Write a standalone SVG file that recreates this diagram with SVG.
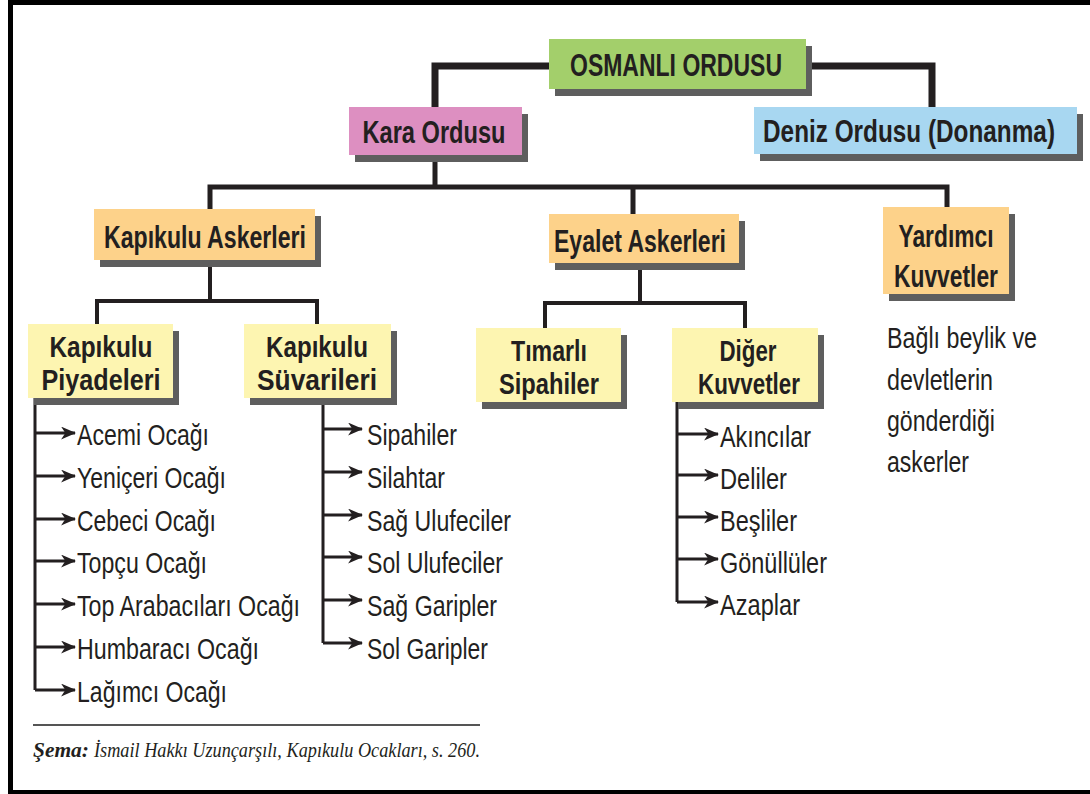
<svg xmlns="http://www.w3.org/2000/svg" width="1090" height="794" viewBox="0 0 1090 794">
<style>
.sh{fill:#5e5e5e}
.t{font-family:"Liberation Sans",Arial,sans-serif;fill:#231f20;text-anchor:middle;font-weight:bold}
.l{font-family:"Liberation Sans",Arial,sans-serif;fill:#231f20;font-size:30px}
.c{fill:none;stroke:#231f20;stroke-linecap:square}
.g{fill:#a3cf6b}.p{fill:#dd8fc1}.b{fill:#a8d7f1}.o{fill:#fdd28a}.y{fill:#fdf5b1}
</style>
<defs>
<marker id="ah" viewBox="0 0 14 12" refX="13" refY="6" markerWidth="15" markerHeight="13" markerUnits="userSpaceOnUse" orient="auto">
<path d="M0,0 L14,6 L0,12 L4,6 Z" fill="#231f20"/>
</marker>
</defs>
<rect width="1090" height="794" fill="#fff"/>
<g id="frame" fill="#000">
<rect x="8" y="0" width="1082" height="5"/>
<rect x="8" y="0" width="5" height="794"/>
<rect x="8" y="790" width="1082" height="4"/>
</g>
<g id="connectors">
<path class="c" d="M549,66 H435 V107 M806,66 H932 V107" stroke-width="7" stroke-linecap="butt"/>
<path class="c" d="M435,155 V187 M210,209 V187 H947 V207 M633,187 V214" stroke-width="5" stroke-linecap="butt"/>
<path class="c" d="M210,260 V301 M97,324 V301 H317 V324 M640,263 V303 M545,328 V303 H745 V328" stroke-width="4" stroke-linecap="butt"/>
<g stroke="#231f20" stroke-width="3" fill="none">
<path d="M35,398 V690 M323,398 V643 M677,402 V602"/>
<g marker-end="url(#ah)">
<path d="M35,433 H75"/><path d="M35,476 H75"/><path d="M35,519 H75"/><path d="M35,561 H75"/><path d="M35,604 H75"/><path d="M35,647 H75"/><path d="M35,690 H75"/>
<path d="M323,429 H362"/><path d="M323,472 H362"/><path d="M323,515 H362"/><path d="M323,557 H362"/><path d="M323,600 H362"/><path d="M323,643 H362"/>
<path d="M677,434 H718"/><path d="M677,475 H718"/><path d="M677,517 H718"/><path d="M677,559 H718"/><path d="M677,602 H718"/>
</g>
</g>
</g>
<g id="osmanli-ordusu">
<rect class="sh" x="555" y="46" width="257" height="50"/>
<rect class="g" x="549" y="39" width="257" height="50"/>
<text class="t" x="676" y="76" font-size="31" textLength="212" lengthAdjust="spacingAndGlyphs">OSMANLI ORDUSU</text>
</g>
<g id="kara-ordusu">
<rect class="sh" x="355" y="114" width="173" height="48"/>
<rect class="p" x="349" y="107" width="173" height="48"/>
<text class="t" x="434" y="143" font-size="32" textLength="143" lengthAdjust="spacingAndGlyphs">Kara Ordusu</text>
</g>
<g id="deniz-ordusu">
<rect class="sh" x="760" y="114" width="323" height="47"/>
<rect class="b" x="754" y="107" width="323" height="47"/>
<text class="t" transform="translate(909,142) scale(0.785,1)" x="0" y="0" font-size="31">Deniz Ordusu (Donanma)</text>
</g>
<g id="kapikulu-askerleri">
<rect class="sh" x="100" y="216" width="221" height="51"/>
<rect class="o" x="94" y="209" width="221" height="51"/>
<text class="t" x="205" y="248" font-size="32" textLength="202" lengthAdjust="spacingAndGlyphs">Kapıkulu Askerleri</text>
</g>
<g id="eyalet-askerleri">
<rect class="sh" x="555" y="221" width="190" height="49"/>
<rect class="o" x="549" y="214" width="190" height="49"/>
<text class="t" x="640" y="252" font-size="32" textLength="172" lengthAdjust="spacingAndGlyphs">Eyalet Askerleri</text>
</g>
<g id="yardimci-kuvvetler">
<rect class="sh" x="889" y="214" width="126" height="87"/>
<rect class="o" x="883" y="207" width="126" height="87"/>
<text class="t" x="946" y="247" font-size="32" textLength="95" lengthAdjust="spacingAndGlyphs">Yardımcı</text>
<text class="t" x="946" y="287" font-size="32" textLength="104" lengthAdjust="spacingAndGlyphs">Kuvvetler</text>
</g>
<g id="kapikulu-piyadeleri">
<rect class="sh" x="34" y="331" width="145" height="74"/>
<rect class="y" x="28" y="324" width="145" height="74"/>
<text class="t" x="101" y="357" font-size="30" textLength="103" lengthAdjust="spacingAndGlyphs">Kapıkulu</text>
<text class="t" x="101" y="390" font-size="30" textLength="119" lengthAdjust="spacingAndGlyphs">Piyadeleri</text>
</g>
<g id="kapikulu-suvarileri">
<rect class="sh" x="250" y="331" width="147" height="74"/>
<rect class="y" x="244" y="324" width="147" height="74"/>
<text class="t" x="317" y="357" font-size="30" textLength="102" lengthAdjust="spacingAndGlyphs">Kapıkulu</text>
<text class="t" x="317" y="390" font-size="30" textLength="120" lengthAdjust="spacingAndGlyphs">Süvarileri</text>
</g>
<g id="timarli-sipahiler">
<rect class="sh" x="482" y="335" width="145" height="74"/>
<rect class="y" x="476" y="328" width="145" height="74"/>
<text class="t" x="549" y="361" font-size="30" textLength="76" lengthAdjust="spacingAndGlyphs">Tımarlı</text>
<text class="t" x="549" y="394" font-size="30" textLength="100" lengthAdjust="spacingAndGlyphs">Sipahiler</text>
</g>
<g id="diger-kuvvetler">
<rect class="sh" x="678" y="335" width="146" height="74"/>
<rect class="y" x="672" y="328" width="146" height="74"/>
<text class="t" x="748" y="361" font-size="30" textLength="57" lengthAdjust="spacingAndGlyphs">Diğer</text>
<text class="t" x="749" y="394" font-size="30" textLength="102" lengthAdjust="spacingAndGlyphs">Kuvvetler</text>
</g>
<g id="piyade-list">
<text class="l" x="77" y="445" textLength="132" lengthAdjust="spacingAndGlyphs">Acemi Ocağı</text>
<text class="l" x="77" y="488" textLength="149" lengthAdjust="spacingAndGlyphs">Yeniçeri Ocağı</text>
<text class="l" x="77" y="531" textLength="139" lengthAdjust="spacingAndGlyphs">Cebeci Ocağı</text>
<text class="l" x="77" y="573" textLength="130" lengthAdjust="spacingAndGlyphs">Topçu Ocağı</text>
<text class="l" x="77" y="616" textLength="223" lengthAdjust="spacingAndGlyphs">Top Arabacıları Ocağı</text>
<text class="l" x="77" y="659" textLength="182" lengthAdjust="spacingAndGlyphs">Humbaracı Ocağı</text>
<text class="l" x="77" y="702" textLength="150" lengthAdjust="spacingAndGlyphs">Lağımcı Ocağı</text>
</g>
<g id="suvari-list">
<text class="l" x="367" y="445" textLength="90" lengthAdjust="spacingAndGlyphs">Sipahiler</text>
<text class="l" x="367" y="488" textLength="78" lengthAdjust="spacingAndGlyphs">Silahtar</text>
<text class="l" x="367" y="531" textLength="144" lengthAdjust="spacingAndGlyphs">Sağ Ulufeciler</text>
<text class="l" x="367" y="573" textLength="136" lengthAdjust="spacingAndGlyphs">Sol Ulufeciler</text>
<text class="l" x="367" y="616" textLength="130" lengthAdjust="spacingAndGlyphs">Sağ Garipler</text>
<text class="l" x="367" y="659" textLength="121" lengthAdjust="spacingAndGlyphs">Sol Garipler</text>
</g>
<g id="diger-list">
<text class="l" x="720" y="447" textLength="91" lengthAdjust="spacingAndGlyphs">Akıncılar</text>
<text class="l" x="720" y="489" textLength="67" lengthAdjust="spacingAndGlyphs">Deliler</text>
<text class="l" x="720" y="531" textLength="77" lengthAdjust="spacingAndGlyphs">Beşliler</text>
<text class="l" x="720" y="573" textLength="107" lengthAdjust="spacingAndGlyphs">Gönüllüler</text>
<text class="l" x="720" y="615" textLength="80" lengthAdjust="spacingAndGlyphs">Azaplar</text>
</g>
<g id="yardimci-note">
<text class="l" x="887" y="348" textLength="150" lengthAdjust="spacingAndGlyphs">Bağlı beylik ve</text>
<text class="l" x="887" y="390" textLength="106" lengthAdjust="spacingAndGlyphs">devletlerin</text>
<text class="l" x="887" y="431" textLength="108" lengthAdjust="spacingAndGlyphs">gönderdiği</text>
<text class="l" x="887" y="472" textLength="82" lengthAdjust="spacingAndGlyphs">askerler</text>
</g>
<g id="source">
<rect x="33" y="724" width="447" height="2" fill="#555"/>
<text x="33" y="757" font-family="'Liberation Serif','Times New Roman',serif" font-size="22" font-style="italic" font-weight="bold" fill="#231f20" textLength="56" lengthAdjust="spacingAndGlyphs">Şema:</text>
<text x="94" y="757" font-family="'Liberation Serif','Times New Roman',serif" font-size="22" font-style="italic" fill="#231f20" textLength="386" lengthAdjust="spacingAndGlyphs">İsmail Hakkı Uzunçarşılı, Kapıkulu Ocakları, s. 260.</text>
</g>
</svg>
